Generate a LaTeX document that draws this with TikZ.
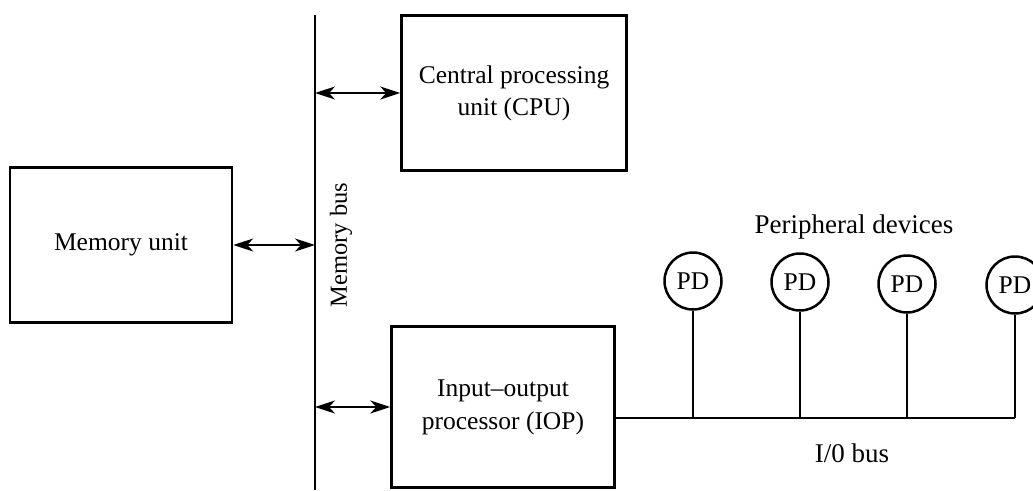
\documentclass[tikz,border=0pt]{standalone}
\usepackage{fontspec}
\setmainfont{Liberation Serif}
\usetikzlibrary{arrows.meta}
\begin{document}
\begin{tikzpicture}[x=1pt,y=-1pt,
  every node/.style={font=\fontsize{25.5}{32}\selectfont},
  unitbox/.style={draw,line width=2.5pt,rectangle,align=center,inner sep=0pt},
  pdev/.style={draw,line width=2.5pt,circle,minimum size=57pt,inner sep=0pt},
  wire/.style={line width=2.8pt},
  biarrow/.style={line width=2.2pt,{Stealth[length=20pt,width=13pt,inset=6pt]}-{Stealth[length=20pt,width=13pt,inset=6pt]}}]
\useasboundingbox (0,0) rectangle (1033,490);
% memory bus
\coordinate (bustop) at (315,15);
\coordinate (busbot) at (315,490);
\draw[wire] (bustop) -- (busbot);
\node[rotate=90,font=\fontsize{24.5}{30}\selectfont] (buslabel) at (341,245) {Memory bus};
% units
\node[unitbox,minimum width=222pt,minimum height=155pt] (mem) at (121,245) {Memory unit};
\node[unitbox,minimum width=225pt,minimum height=155pt] (cpu) at (514,93) {Central processing\\unit (CPU)};
\node[unitbox,minimum width=223pt,minimum height=161pt] (iop) at (503,407) {\raisebox{-6pt}{\begin{tabular}{@{}c@{}}Input--output\\[1pt]processor (IOP)\end{tabular}}};
% arrows to bus
\draw[biarrow] (mem.east) -- (mem.east -| bustop);
\draw[biarrow] (cpu.west -| bustop) -- (cpu.west);
\draw[biarrow] (iop.west -| bustop) -- (iop.west);
% I/O bus
\coordinate (ioL) at (614.1,418);
\coordinate (ioR) at (1015,418);
\draw[wire] (ioL) -- (ioR);
\node[font=\fontsize{27}{30}\selectfont] (iolabel) at (852,453) {I/0 bus};
% peripheral devices
\node[font=\fontsize{27}{30}\selectfont] (pdlabel) at (854,227) {Peripheral devices};
\node[pdev] (pd1) at (693,281) {PD};
\node[pdev] (pd2) at (800,282) {PD};
\node[pdev] (pd3) at (907,284) {PD};
\node[pdev] (pd4) at (1015,285) {PD};
\foreach \p in {pd1,pd2,pd3,pd4}{\draw[wire] (\p.south) -- (\p.south |- ioR);}
\end{tikzpicture}
\end{document}
